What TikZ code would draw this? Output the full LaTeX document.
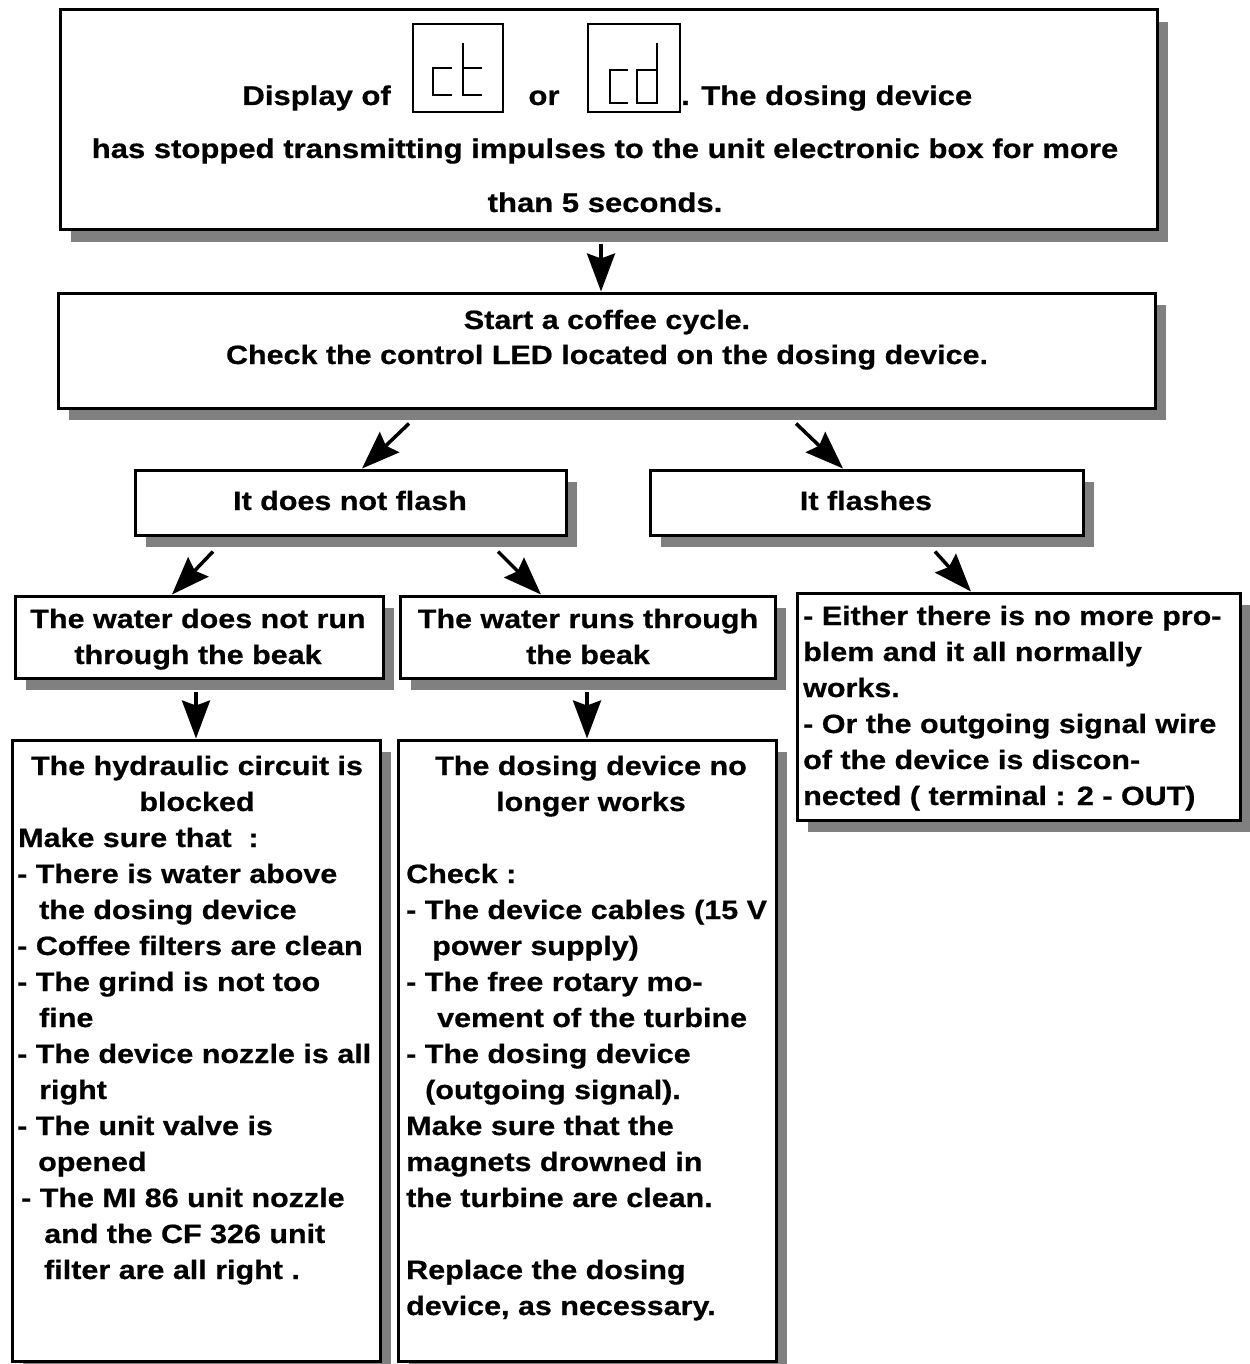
\documentclass[tikz,border=0pt]{standalone}
\usepackage{fontspec}
\newfontfamily\hb{Liberation Sans}[FakeStretch=1.15,FakeBold=0.6]
\usetikzlibrary{shadows,arrows.meta,calc}
\tikzset{
  box/.style={draw=black, line width=3pt, fill=white, inner sep=0pt,
    general shadow={fill=black!50, shadow xshift=11pt, shadow yshift=-12pt}},
  dispbox/.style={draw=black, line width=1.3pt, inner sep=0pt},
  seg/.style={line width=1.5pt, line cap=butt},
  txt/.style={inner sep=0pt, font=\hb\bfseries\fontsize{26.5}{36}\selectfont},
  txtbig/.style={inner sep=0pt, font=\hb\bfseries\fontsize{27}{36}\selectfont},
  arr/.style={line width=3.5pt, -{Stealth[length=38pt,width=28pt,inset=5pt]}}
}
\newcommand\tl[4]{\node[txt,anchor=base west] (#1) at (#2,#3) {#4};}
\newcommand\tc[4]{\node[txt,anchor=base] (#1) at (#2,#3) {#4};}
\begin{document}
\begin{tikzpicture}[x=1pt,y=-1pt]
\useasboundingbox (0,0) rectangle (1249,1364);
% boxes
\node[box, minimum width=1097pt, minimum height=220pt] (b1) at (608.5,120) {};
\node[box, minimum width=1097pt, minimum height=115pt] (b2) at (606.5,350.5) {};
\node[box, minimum width=431pt, minimum height=65pt] (b3) at (350.5,502.5) {};
\node[box, minimum width=433pt, minimum height=65pt] (b4) at (866.5,502.5) {};
\node[box, minimum width=368pt, minimum height=82pt] (b5) at (199,637) {};
\node[box, minimum width=375pt, minimum height=82pt] (b6) at (587.5,637) {};
\node[box, minimum width=443pt, minimum height=227pt] (b7) at (1018.5,706.5) {};
\node[box, minimum width=368pt, minimum height=621pt] (b8) at (196,1050.5) {};
\node[box, minimum width=378pt, minimum height=621pt] (b9) at (587,1050.5) {};
% top box text
\node[txtbig,anchor=base east] (disp) at (391,105) {Display of};
\node[dispbox, minimum width=90pt, minimum height=88pt] (ct) at (458,68) {};
\node[txtbig,anchor=base] (or) at (544,105) {or};
\node[dispbox, minimum width=92pt, minimum height=88pt] (cd) at (634,68) {};
\node[txtbig,anchor=base west] (dd) at (681,105) {. The dosing device};
\node[txtbig,anchor=base] (l12) at (605,158) {has stopped transmitting impulses to the unit electronic box for more};
\node[txtbig,anchor=base] (l13) at (605,212) {than 5 seconds.};
% seven-segment glyphs
\draw[seg] (452,68) -- (433,68) -- (433,95) -- (452,95);
\draw[seg] (463,43) -- (463,95) -- (482,95);
\draw[seg] (463,68) -- (482,68);
\draw[seg] (628,70) -- (610,70) -- (610,103) -- (628,103);
\draw[seg] (657,43) -- (657,103) -- (637,103) -- (637,70) -- (657,70);
% box 2
\tc{l21}{607}{329}{Start a coffee cycle.}
\tc{l22}{607}{364}{Check the control LED located on the dosing device.}
% box 3,4
\tc{l31}{350}{510}{It does not flash}
\tc{l41}{866}{510}{It flashes}
% box 5,6
\tc{l51}{198}{628}{The water does not run}
\tc{l52}{198}{664}{through the beak}
\tc{l61}{588}{628}{The water runs through}
\tc{l62}{588}{664}{the beak}
% box 7
\tl{l71}{803}{625}{- Either there is no more pro-}
\tl{l72}{803}{661}{blem and it all normally}
\tl{l73}{803}{697}{works.}
\tl{l74}{803}{733}{- Or the outgoing signal wire}
\tl{l75}{803}{769}{of the device is discon-}
\tl{l76}{803}{805}{nected ( terminal : 2 - OUT)}
% box 8
\tc{l81}{197}{775}{The hydraulic circuit is}
\tc{l82}{197}{811}{blocked}
\tl{l83}{18}{847}{Make sure that\ \ :}
\tl{l84}{17}{883}{- There is water above}
\tl{l85}{39}{919}{the dosing device}
\tl{l86}{17}{955}{- Coffee filters are clean}
\tl{l87}{17}{991}{- The grind is not too}
\tl{l88}{39}{1027}{fine}
\tl{l89}{17}{1063}{- The device nozzle is all}
\tl{l810}{39}{1099}{right}
\tl{l811}{17}{1135}{- The unit valve is}
\tl{l812}{38}{1171}{opened}
\tl{l813}{21}{1207}{- The MI 86 unit nozzle}
\tl{l814}{44}{1243}{and the CF 326 unit}
\tl{l815}{44}{1279}{filter are all right .}
% box 9
\tc{l91}{591}{775}{The dosing device no}
\tc{l92}{591}{811}{longer works}
\tl{l93}{406}{883}{Check :}
\tl{l94}{406}{919}{- The device cables (15 V}
\tl{l95}{432}{955}{power supply)}
\tl{l96}{406}{991}{- The free rotary mo-}
\tl{l97}{437}{1027}{vement of the turbine}
\tl{l98}{406}{1063}{- The dosing device}
\tl{l99}{425}{1099}{(outgoing signal).}
\tl{l910}{406}{1135}{Make sure that the}
\tl{l911}{406}{1171}{magnets drowned in}
\tl{l912}{406}{1207}{the turbine are clean.}
\tl{l913}{406}{1279}{Replace the dosing}
\tl{l914}{406}{1315}{device, as necessary.}
% arrows
\draw[arr] ([xshift=-7.5pt,yshift=-13pt]b1.south) -- ([xshift=-5.5pt]b2.north);
\draw[arr] ([xshift=-197.5pt,yshift=-14pt]b2.south) -- ([xshift=11.5pt]b3.north);
\draw[arr] ([xshift=189.5pt,yshift=-14pt]b2.south) -- ([xshift=-23.5pt]b4.north);
\draw[arr] ([xshift=-137.5pt,yshift=-15pt]b3.south) -- ([xshift=-27pt]b5.north);
\draw[arr] ([xshift=147.5pt,yshift=-15pt]b3.south) -- ([xshift=-46.5pt]b6.north);
\draw[arr] ([xshift=68.5pt,yshift=-15pt]b4.south) -- ([xshift=-47.5pt]b7.north);
\draw[arr] ([xshift=-3pt,yshift=-12pt]b5.south) -- (b8.north);
\draw[arr] ([xshift=-0.5pt,yshift=-12pt]b6.south) -- (b9.north);
\end{tikzpicture}
\end{document}
